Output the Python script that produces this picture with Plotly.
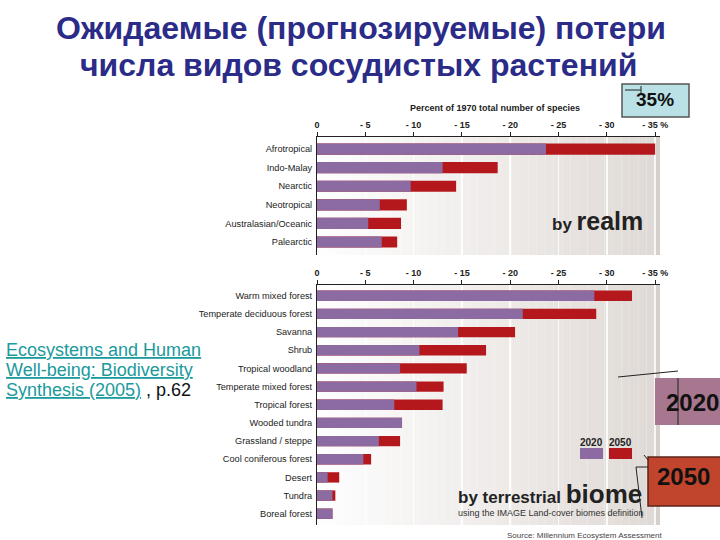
import plotly.graph_objects as go

# ---------------- data ----------------
realms = ["Afrotropical", "Indo-Malay", "Nearctic", "Neotropical",
          "Australasian/Oceanic", "Palearctic"]
realm_2020 = [23.7, 13.0, 9.7, 6.5, 5.3, 6.7]
realm_2050 = [35.0, 18.7, 14.4, 9.3, 8.7, 8.3]

biomes = ["Warm mixed forest", "Temperate deciduous forest", "Savanna", "Shrub",
          "Tropical woodland", "Temperate mixed forest", "Tropical forest",
          "Wooded tundra", "Grassland / steppe", "Cool coniferous forest",
          "Desert", "Tundra", "Boreal forest"]
biome_2020 = [28.7, 21.3, 14.6, 10.6, 8.6, 10.3, 8.0, 8.8, 6.4, 4.8, 1.1, 1.6, 1.6]
biome_2050 = [32.6, 28.9, 20.5, 17.5, 15.5, 13.1, 13.0, 8.8, 8.6, 5.6, 2.3, 1.9, 1.6]

tick_vals = [0, 5, 10, 15, 20, 25, 30, 35]
tick_text = ["0", "- 5", "- 10", "- 15", "- 20", "- 25", "- 30", "- 35 %"]
series_names = ["2020", "2050"]

# ---------------- style ----------------
W, H = 720, 540
PURPLE = "#8c6aa2"
RED = "#b5181c"
SANS = "Liberation Sans, Arial, sans-serif"


def px(x):
    return x / W


def py(y):
    return 1 - y / H


fig = go.Figure()

fig.add_trace(go.Bar(y=realms, x=realm_2050, orientation="h", marker_color=RED,
                     marker_line_width=0, width=0.6, name=series_names[1],
                     xaxis="x", yaxis="y", showlegend=False, hoverinfo="skip"))
fig.add_trace(go.Bar(y=realms, x=realm_2020, orientation="h", marker_color=PURPLE,
                     marker_line_width=0, width=0.6, name=series_names[0],
                     xaxis="x", yaxis="y", showlegend=False, hoverinfo="skip"))
fig.add_trace(go.Bar(y=biomes, x=biome_2050, orientation="h", marker_color=RED,
                     marker_line_width=0, width=0.57, name=series_names[1],
                     xaxis="x2", yaxis="y2", showlegend=False, hoverinfo="skip"))
fig.add_trace(go.Bar(y=biomes, x=biome_2020, orientation="h", marker_color=PURPLE,
                     marker_line_width=0, width=0.57, name=series_names[0],
                     xaxis="x2", yaxis="y2", showlegend=False, hoverinfo="skip"))

xdom = [px(317), px(660)]
common_x = dict(range=[0, 35.5], tickvals=tick_vals,
                ticktext=["<b>" + t + "</b>" for t in tick_text], side="top",
                ticks="outside", ticklen=4, tickcolor="#222", showline=True,
                linecolor="#222", linewidth=1, showgrid=True,
                gridcolor="rgba(255,255,255,0.85)", gridwidth=1.5, zeroline=False,
                tickfont=dict(family=SANS, size=9, color="#222"), fixedrange=True)
common_y = dict(type="category", showline=True, linecolor="#222", linewidth=1,
                ticks="", showgrid=False, zeroline=False, ticklabelstandoff=2,
                tickfont=dict(family=SANS, size=9.2, color="#222"), fixedrange=True)

fig.update_layout(
    height=H, autosize=True, margin=dict(l=0, r=0, t=0, b=0, autoexpand=False),
    paper_bgcolor="white", plot_bgcolor="rgba(0,0,0,0)",
    barmode="overlay", showlegend=False,
    xaxis=dict(domain=xdom, anchor="y", **common_x),
    yaxis=dict(domain=[py(255), py(137)], anchor="x", categoryorder="array",
               categoryarray=realms, range=[5.7, -0.65], **common_y),
    xaxis2=dict(domain=xdom, anchor="y2", **common_x),
    yaxis2=dict(domain=[py(525), py(285)], anchor="x2", categoryorder="array",
                categoryarray=biomes, range=[12.62, -0.59], **common_y),
)

shapes = []
N = 40
for xr, yr in (("x", "y domain"), ("x2", "y2 domain")):
    for i in range(N):
        t = (i + 0.5) / N
        r = int(255 - (255 - 224) * t)
        g = int(255 - (255 - 218) * t)
        b = int(255 - (255 - 214) * t)
        shapes.append(dict(type="rect", xref=xr, yref=yr, x0=35 * i / N, x1=35 * (i + 1) / N,
                           y0=0, y1=1, fillcolor=f"rgb({r},{g},{b})", line_width=0,
                           layer="below"))
    shapes.append(dict(type="rect", xref=xr, yref=yr, x0=35, x1=35.5, y0=0, y1=1,
                       fillcolor="rgb(214,208,204)", line_width=0, layer="below"))
    shapes.append(dict(type="line", xref=xr, yref=yr, x0=35, x1=35, y0=0, y1=1,
                       line=dict(color="rgb(200,194,190)", width=1), layer="below"))

shapes.append(dict(type="rect", xref="paper", yref="paper", x0=px(580), x1=px(603),
                   y0=py(459), y1=py(448), fillcolor=PURPLE, line_width=0))
shapes.append(dict(type="rect", xref="paper", yref="paper", x0=px(609), x1=px(632),
                   y0=py(459), y1=py(448), fillcolor=RED, line_width=0))

shapes.append(dict(type="rect", xref="paper", yref="paper", x0=px(622), x1=px(689),
                   y0=py(117), y1=py(84), fillcolor="#b9e1e6",
                   line=dict(color="#555", width=1.5)))
shapes.append(dict(type="rect", xref="paper", yref="paper", x0=px(655), x1=px(722),
                   y0=py(425), y1=py(378), fillcolor="#a7778f", line_width=0))
shapes.append(dict(type="rect", xref="paper", yref="paper", x0=px(648), x1=px(722),
                   y0=py(506), y1=py(457), fillcolor="#c0452c",
                   line=dict(color="#5a2418", width=1.5)))

for (x0, y0, x1, y1) in [(625, 90, 641, 90), (641, 86, 641, 95),
                         (618, 377, 678, 371), (678, 378, 678, 425),
                         (636, 467, 648, 467), (636, 467, 642, 518),
                         (644, 455, 648, 460)]:
    shapes.append(dict(type="line", xref="paper", yref="paper", x0=px(x0), y0=py(y0),
                       x1=px(x1), y1=py(y1), line=dict(color="#222", width=1)))

fig.update_layout(shapes=shapes)

ann = []


def text(x, y, s, size, color="#222", family=SANS, xanchor="left", yanchor="middle"):
    ann.append(dict(xref="paper", yref="paper", x=px(x), y=py(y), text=s,
                    showarrow=False, xanchor=xanchor, yanchor=yanchor,
                    font=dict(family=family, size=size, color=color)))


TITLE = "#2b2b88"
text(361, 28, "<b>Ожидаемые (прогнозируемые) потери</b>", 32, TITLE, xanchor="center")
text(358, 65, "<b>числа видов сосудистых растений</b>", 32, TITLE, xanchor="center")

text(495, 108, "<b>Percent of 1970 total number of species</b>", 9, "#222",
     xanchor="center")

text(550, 221, "<b>by <span style='font-size:25px'>realm</span></b>", 17, "#222")
text(456, 494, "<b>by terrestrial <span style='font-size:26px'>biome</span></b>", 17, "#222")
text(456, 513, "using the IMAGE Land-cover biomes definition", 9, "#333")
text(505, 535, "Source: Millennium Ecosystem Assessment", 8, "#444", xanchor="left")

text(591, 442, "<b>" + series_names[0] + "</b>", 10, "#222", xanchor="center")
text(620, 442, "<b>" + series_names[1] + "</b>", 10, "#222", xanchor="center")

text(655, 100, "<b>35%</b>", 19, "#111", xanchor="center")
text(664, 402, "<b>2020</b>", 24, "#111", xanchor="left")
text(683, 476, "<b>2050</b>", 24, "#111", xanchor="center")

LINK = "#1a9a9c"
text(4, 350, "<u>Ecosystems and Human</u>", 18, LINK)
text(4, 370, "<u>Well-being: Biodiversity</u>", 18, LINK)
text(4, 390, "<u>Synthesis (2005)</u><span style='color:#111'> , p.62</span>", 18, LINK)

fig.update_layout(annotations=ann)

fig.write_html("out.html", default_width="100%", default_height="540px",
               config={"displayModeBar": False, "staticPlot": True, "responsive": True},
               post_script="document.documentElement.style.margin='0';"
                           "document.documentElement.style.overflow='hidden';"
                           "document.body.style.margin='0';"
                           "document.body.style.overflow='hidden';"
                           "Plotly.Plots.resize(document.getElementById('{plot_id}'));")
